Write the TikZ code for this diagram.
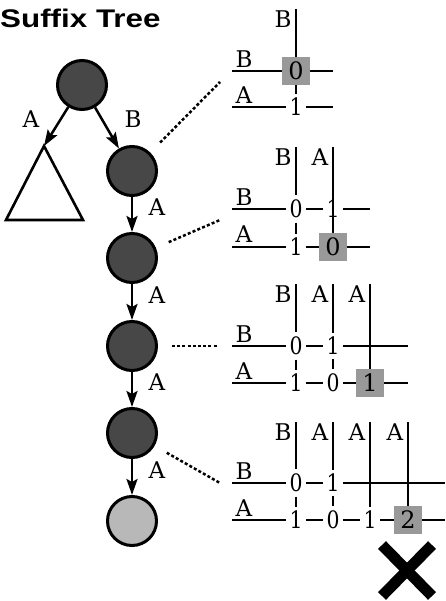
\documentclass[tikz,border=0pt]{standalone}
\usepackage{fontspec}
\setmainfont{DejaVu Serif}
\newfontfamily\titlefont{Liberation Sans}
\usetikzlibrary{arrows.meta}
\begin{document}
\begin{tikzpicture}[x=1pt,y=-1pt,
  lbl/.style={inner sep=0pt,font=\fontsize{23}{23}\selectfont},
  dig/.style={inner sep=0pt,outer sep=4.5pt,font=\fontsize{24}{24}\selectfont,xscale=0.85},
  gbox/.style={inner sep=0pt,outer sep=0pt,fill=black!40,minimum size=28pt,font=\fontsize{24}{24}\selectfont},
  hl/.style={line width=2.8pt},
  dk/.style={circle,draw,line width=3pt,fill=black!72,minimum size=49pt,inner sep=0pt},
  lt/.style={circle,draw,line width=3pt,fill=black!28,minimum size=49pt,inner sep=0pt},
  arr/.style={line width=2.5pt,-{Stealth[length=16pt,width=11pt,inset=3pt]}},
  dotl/.style={line width=2.5pt,dash pattern=on 3pt off 2.2pt,shorten <=14pt},
  tri/.style={line width=2.6pt,line join=miter}
]
\useasboundingbox (0,0) rectangle (445,601);
\fill[white] (0,0) rectangle (445,601);

% title
\node[anchor=base west,inner sep=0pt] (title) at (0,28)
  {\titlefont\bfseries\fontsize{25.5}{25.5}\selectfont\scalebox{1.23}[1]{Suffix Tree}};

% tree
\node[dk] (r) at (82,85) {};
\node[dk] (n1) at (132,171) {};
\node[dk] (n2) at (132,258) {};
\node[dk] (n3) at (132,346) {};
\node[dk] (n4) at (132,433) {};
\node[lt] (n5) at (132,521) {};
\coordinate (apex) at (44,146);
\coordinate (bl) at (6,220);
\coordinate (br) at (83,220);
\draw[tri] (apex) -- (br) -- (bl) -- cycle;
\draw[arr] (r) -- (apex);
\draw[arr] (r) -- (n1);
\draw[arr] (n1) -- (n2);
\draw[arr] (n2) -- (n3);
\draw[arr] (n3) -- (n4);
\draw[arr] (n4) -- (n5);
\node[lbl] (ea) at (31,119) {A};
\node[lbl] (eb) at (133,119) {B};
\node[lbl] (e1) at (157,207) {A};
\node[lbl] (e2) at (157,295) {A};
\node[lbl] (e3) at (157,382) {A};
\node[lbl] (e4) at (157,470) {A};

% dotted connectors
\coordinate (d1) at (220,82);
\coordinate (d2) at (220,220);
\coordinate (d3) at (218,346);
\coordinate (d4) at (220,483);
\draw[dotl] (n1) -- (d1);
\draw[dotl] (n2) -- (d2);
\draw[dotl] (n3) -- (d3);
\draw[dotl] (n4) -- (d4);

% table 1
\begin{scope}[shift={(0,71)}]
\node[lbl] (t1c1) at (283,-52) {B};
\node[lbl] (t1rb) at (244,-12) {B};
\node[lbl] (t1ra) at (244,24) {A};
\draw[hl] (296,-62) -- (296,0);
\node[gbox] (t1b1) at (296,0) {0};
\node[dig] (t1a1) at (296,36) {1};
\draw[hl] (232,0) -- (t1b1.west);
\draw[hl] (t1b1.east) -- (333,0);
\draw[hl] (232,36) -- (t1a1);
\draw[hl] (t1a1) -- (333,36);
\draw[hl] (t1b1.south) -- (t1a1);
\end{scope}

% table 2
\begin{scope}[shift={(0,209)}]
\node[lbl] (t2c1) at (283,-52) {B};
\node[lbl] (t2c2) at (320,-52) {A};
\node[lbl] (t2rb) at (244,-12) {B};
\node[lbl] (t2ra) at (244,25) {A};
\node[dig] (t2b1) at (296,0) {0};
\node[dig] (t2b2) at (333,0) {1};
\node[dig] (t2a1) at (296,38) {1};
\draw[hl] (333,-62) -- (333,38);
\node[gbox] (t2a2) at (333,38) {0};
\draw[hl] (296,-62) -- (t2b1);
\draw[hl] (333,-62) -- (t2b2);
\draw[hl] (232,0) -- (t2b1);
\draw[hl] (t2b1) -- (t2b2);
\draw[hl] (t2b2) -- (370,0);
\draw[hl] (232,38) -- (t2a1);
\draw[hl] (t2a1) -- (t2a2.west);
\draw[hl] (t2a2.east) -- (370,38);
\draw[hl] (t2b1) -- (t2a1);
\draw[hl] (t2b2) -- (t2a2.north);
\end{scope}

% table 3
\begin{scope}[shift={(0,346)}]
\node[lbl] (t3c1) at (283,-52) {B};
\node[lbl] (t3c2) at (320,-52) {A};
\node[lbl] (t3c3) at (357,-52) {A};
\node[lbl] (t3rb) at (244,-12) {B};
\node[lbl] (t3ra) at (244,25) {A};
\node[dig] (t3b1) at (296,0) {0};
\node[dig] (t3b2) at (333,0) {1};
\node[dig] (t3a1) at (296,37) {1};
\node[dig] (t3a2) at (333,37) {0};
\draw[hl] (232,0) -- (t3b1);
\draw[hl] (t3b1) -- (t3b2);
\draw[hl] (t3b2) -- (408,0);
\draw[hl] (370,-62) -- (370,37);
\node[gbox] (t3a3) at (370,37) {1};
\draw[hl] (296,-62) -- (t3b1);
\draw[hl] (333,-62) -- (t3b2);
\draw[hl] (232,37) -- (t3a1);
\draw[hl] (t3a1) -- (t3a2);
\draw[hl] (t3a2) -- (t3a3.west);
\draw[hl] (t3a3.east) -- (408,37);
\draw[hl] (t3b1) -- (t3a1);
\draw[hl] (t3b2) -- (t3a2);
\end{scope}

% table 4
\begin{scope}[shift={(0,483)}]
\node[lbl] (t4c1) at (283,-51) {B};
\node[lbl] (t4c2) at (320,-51) {A};
\node[lbl] (t4c3) at (357,-51) {A};
\node[lbl] (t4c4) at (395,-51) {A};
\node[lbl] (t4rb) at (244,-12) {B};
\node[lbl] (t4ra) at (244,25) {A};
\node[dig] (t4b1) at (296,0) {0};
\node[dig] (t4b2) at (333,0) {1};
\node[dig] (t4a1) at (296,37) {1};
\node[dig] (t4a2) at (333,37) {0};
\node[dig] (t4a3) at (370,37) {1};
\draw[hl] (232,0) -- (t4b1);
\draw[hl] (t4b1) -- (t4b2);
\draw[hl] (t4b2) -- (445,0);
\draw[hl] (408,-61) -- (408,37);
\node[gbox] (t4a4) at (408,37) {2};
\draw[hl] (296,-61) -- (t4b1);
\draw[hl] (333,-61) -- (t4b2);
\draw[hl] (370,-61) -- (t4a3);
\draw[hl] (232,37) -- (t4a1);
\draw[hl] (t4a1) -- (t4a2);
\draw[hl] (t4a2) -- (t4a3);
\draw[hl] (t4a3) -- (t4a4.west);
\draw[hl] (t4a4.east) -- (445,37);
\draw[hl] (t4b1) -- (t4a1);
\draw[hl] (t4b2) -- (t4a2);
\end{scope}

% cross
\draw[line width=11pt] (382,545) -- (432,596);
\draw[line width=11pt] (432,545) -- (382,596);
\end{tikzpicture}
\end{document}
